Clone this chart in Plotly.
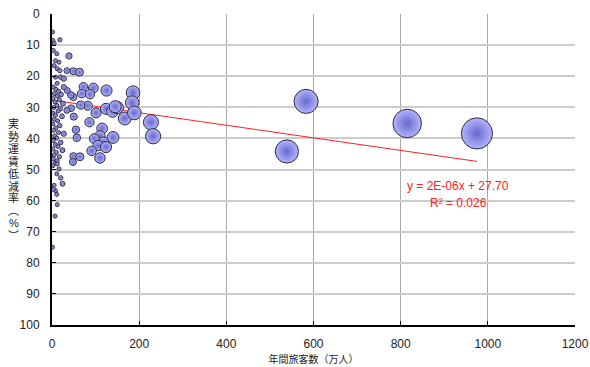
import numpy as np
import plotly.graph_objects as go

# passengers (10k people) and effective fare reduction rate (%)
small_x = [1, 2, 5, 3, 11, 8, 16, 5, 12, 18, 8, 20, 27, 12,
           3, 9, 15, 5, 21, 12, 2, 17, 7, 25, 11, 4, 19, 14, 2, 8, 23, 5, 13, 2, 18, 9, 4, 15, 27, 6,
           11, 3, 20, 8, 14, 2, 24, 10, 5, 17, 3, 12, 7, 2,
           12, 16, 11, 20, 24, 5, 8, 11, 12, 7, 1, 3]
small_y = [5.8, 8.5, 9.4, 11.7, 12.8, 15.0, 15.5, 16.6, 17.6, 18.2, 20.3, 20.3, 20.8, 22.3,
           23.5, 24.2, 24.8, 25.6, 25.9, 26.4, 27.2, 27.6, 28.3, 28.8, 29.4, 30.1, 30.5, 31.2, 31.9, 32.5,
           32.9, 33.8, 34.4, 35.3, 35.9, 36.6, 37.4, 38.1, 38.5, 39.2,
           39.9, 40.7, 41.3, 42.0, 42.6, 43.4, 43.8, 44.5, 45.3, 45.9, 46.6, 47.2, 48.0, 48.8,
           48.2, 49.8, 51.4, 52.7, 54.6, 55.1, 56.8, 58.0, 61.3, 65.0, 75.0, 56.4]
mid_x = [18, 39, 34, 49, 63, 72, 95, 125, 186, 184, 68, 87, 49, 43, 35, 27,
         82, 66, 44, 101, 124, 139, 150, 145, 167, 189, 86, 50, 34,
         55, 57, 115, 140, 110, 97, 118, 106, 91, 124, 110, 227, 232, 49, 64, 48]
mid_y = [8.3, 13.5, 18.2, 18.4, 18.7, 23.4, 23.8, 24.6, 25.3, 28.5, 25.6, 25.8, 26.7, 26.0, 24.6, 23.5,
         29.5, 29.3, 30.3, 31.8, 30.5, 31.3, 30.1, 29.8, 33.6, 31.8, 34.8, 33.0, 31.0,
         37.2, 39.8, 36.8, 39.7, 39.2, 40.1, 41.3, 42.3, 44.0, 42.8, 46.3, 34.8, 39.3, 45.7, 45.9, 47.6]
big_x = [539, 583, 815, 975]
big_y = [44.2, 28.1, 35.2, 38.4]

x_vals = small_x + mid_x + big_x
y_vals = small_y + mid_y + big_y

trend_slope = 0.0202
trend_intercept = 27.70
eq_text = "y = 2E-06x + 27.70"
r2_text = "R² = 0.026"

x_ticks = [0, 200, 400, 600, 800, 1000, 1200]
y_ticks = [0, 10, 20, 30, 40, 50, 60, 70, 80, 90, 100]
x_title = "年間旅客数（万人）"
y_title = "実勢運賃低減率︵%︶"

xs = np.array(x_vals, dtype=float)
sizes = np.maximum(np.sqrt(xs), 4)

fig = go.Figure()
tx = [0, max(x_vals)]
fig.add_trace(go.Scatter(x=tx, y=[trend_intercept + trend_slope * v for v in tx], mode="lines",
                         line=dict(color="#ff2020", width=1), hoverinfo="skip"))
fig.add_trace(go.Scatter(
    x=x_vals, y=y_vals, mode="markers",
    marker=dict(size=sizes, sizemode="diameter", color="#b4b4ff",
                gradient=dict(type="radial", color="#6868cc"),
                line=dict(color="#2e2e3e", width=1), opacity=1)))

font_lat = "Liberation Sans, Arial, sans-serif"
fig.update_layout(
    width=590, height=367, margin=dict(l=52, r=15, t=14, b=42),
    paper_bgcolor="white", plot_bgcolor="white", showlegend=False,
    font=dict(family=font_lat, size=12, color="#222"),
    xaxis=dict(range=[0, 1200], tickvals=x_ticks, showgrid=True, gridcolor="#a8a8a8", gridwidth=1,
               showline=True, linecolor="black", linewidth=2, ticks="inside", ticklen=4, tickcolor="black",
               zeroline=False, ticklabelstandoff=7, automargin=False, tickfont=dict(size=12),
               title=dict(text=x_title, font=dict(family="Noto Sans CJK JP", size=10, color="#222"), standoff=4)),
    yaxis=dict(range=[100, 0], tickvals=y_ticks, showgrid=True, gridcolor="#cccccc", gridwidth=1.5,
               showline=True, linecolor="black", linewidth=2, ticks="inside", ticklen=4, tickcolor="black",
               zeroline=False, ticklabelstandoff=8, automargin=False, tickfont=dict(size=12)),
)

# equation text
fig.add_annotation(x=(458 - 52) / 523, y=(325 - 186) / 311, xref="paper", yref="paper", text=eq_text,
                   showarrow=False, xanchor="center", yanchor="middle",
                   font=dict(color="#ff2020", size=12, family=font_lat))
fig.add_annotation(x=(458 - 52) / 523, y=(325 - 203) / 311, xref="paper", yref="paper", text=r2_text,
                   showarrow=False, xanchor="center", yanchor="middle",
                   font=dict(color="#ff2020", size=12, family=font_lat))

# vertical y-axis title, one character per annotation
for i, ch in enumerate(y_title):
    py = 124 + i * 12.4
    fig.add_annotation(x=(14 - 52) / 523, y=(325 - py) / 311, xref="paper", yref="paper", text=ch,
                       showarrow=False, xanchor="center", yanchor="middle", borderpad=0,
                       font=dict(family="Liberation Sans, Noto Sans CJK JP", size=11, color="#222"))

fig.write_html("out.html")
